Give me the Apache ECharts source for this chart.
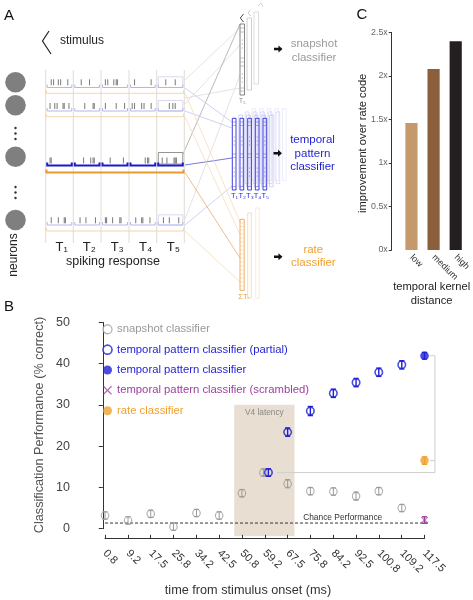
<!DOCTYPE html>
<html><head><meta charset="utf-8">
<script src="https://cdn.jsdelivr.net/npm/echarts@6/dist/echarts.min.js"></script>
<style>html,body{margin:0;padding:0;background:#fff}#c{width:473px;height:600px}</style>
</head><body><div id="c"></div>
<script>
// ---------- DATA ----------
const timeLabels = ['0.8','9.2','17.5','25.8','34.2','42.5','50.8','59.2','67.5','75.8','84.2','92.5','100.8','109.2','117.5'];
const times = timeLabels.map(Number);
const snapshotMean = [3.2, 2.0, 3.6, 0.5, 3.8, 3.2, 8.6, 13.6, 10.9, 9.1, 9.0, 7.9, 9.1, 5.0, null];
const snapshotErr  = [0.9, 0.9, 0.9, 0.9, 0.9, 0.9, 0.9, 0.9, 1.0, 0.9, 0.9, 1.0, 0.9, 0.9, null];
const partialMean  = [null, null, null, null, null, null, null, 13.6, 23.4, 28.5, 32.8, 35.4, 37.9, 39.7, null];
const partialErr   = [null, null, null, null, null, null, null, 0.9, 1.0, 1.1, 1.0, 1.0, 1.0, 1.0, null];
const temporalMean = [null, null, null, null, null, null, null, null, null, null, null, null, null, null, 41.9];
const temporalErr  = [null, null, null, null, null, null, null, null, null, null, null, null, null, null, 0.8];
const scrambledMean = [null, null, null, null, null, null, null, null, null, null, null, null, null, null, 2.1];
const scrambledErr  = [null, null, null, null, null, null, null, null, null, null, null, null, null, null, 0.8];
const rateMean = [null, null, null, null, null, null, null, null, null, null, null, null, null, null, 16.5];
const rateErr  = [null, null, null, null, null, null, null, null, null, null, null, null, null, null, 0.9];
const chanceLevel = 1.37;
const v4Latency = [48, 70];
const v4Range = [30, -1.8];
const yTicksB = [0, 50, 10];
const kernelCats = ['low', 'medium', 'high'];
const improvement = [1.46, 2.08, 2.40];
const kernelColors = ['#c49a6c', '#8b5e3c', '#231f20'];

// ---------- HELPERS ----------
const FF = '"Liberation Sans", Arial, Helvetica, sans-serif';
const BLUE = '#1f1fd6', GRAY = '#999', PURPLE = '#a040a0', ORANGE = '#f0a030';
const XSYM = 'path://M0,1L1,0L5,4L9,0L10,1L6,5L10,9L9,10L5,6L1,10L0,9L4,5Z';
const n = times.length;
const idx59 = timeLabels.indexOf('59.2');

function pts(mean, dx) {
  const out = [];
  times.forEach((t, i) => {
    if (mean[i] == null) return;
    const it = { value: [t, mean[i]] };
    if (dx && dx[i]) it.symbolOffset = [dx[i], 0];
    out.push(it);
  });
  return out;
}
function errSeries(mean, err, color, lw, dx) {
  const data = [];
  times.forEach((t, i) => { if (mean[i] != null) data.push([t, mean[i], err[i], (dx && dx[i]) || 0]); });
  return {
    type: 'custom', silent: true, z: 3, data,
    renderItem(params, api) {
      const x = api.value(0), y = api.value(1), e = api.value(2), d = api.value(3);
      const a = api.coord([x, y + e]), b = api.coord([x, y - e]);
      const cx = a[0] + d, w = 2.6;
      const st = { stroke: color, lineWidth: lw };
      return { type: 'group', children: [
        { type: 'line', shape: { x1: cx, y1: a[1], x2: cx, y2: b[1] }, style: st },
        { type: 'line', shape: { x1: cx - w, y1: a[1], x2: cx + w, y2: a[1] }, style: st },
        { type: 'line', shape: { x1: cx - w, y1: b[1], x2: cx + w, y2: b[1] }, style: st }
      ]};
    }
  };
}
const snapDx = {}; snapDx[idx59] = -1.5;
const partDx = {}; partDx[idx59] = 3.5;

// ---------- PANEL A (schematic) ----------
const G = [];
function txt(x, y, text, o) {
  o = o || {};
  G.push({ type: 'text', x, y, rotation: o.rot || 0, silent: true,
    style: { text, fill: o.color || '#222', font: (o.size || 12) + 'px ' + FF,
      textAlign: o.align || 'center', textVerticalAlign: 'middle', opacity: o.op == null ? 1 : o.op } });
}
function ln(x1, y1, x2, y2, stroke, w) { G.push({ type: 'line', silent: true, shape: { x1, y1, x2, y2 }, style: { stroke, lineWidth: w || 1 } }); }
function pl(points, stroke, w) { G.push({ type: 'polyline', silent: true, shape: { points }, style: { stroke, lineWidth: w || 1, fill: null } }); }
function rc(x, y, w, h, stroke, lw, fill) { G.push({ type: 'rect', silent: true, shape: { x, y, width: w, height: h }, style: { stroke, lineWidth: lw || 1, fill: fill || null } }); }
function cc(x, y, r, fill) { G.push({ type: 'circle', silent: true, shape: { cx: x, cy: y, r }, style: { fill } }); }
function arrow(x, y) { G.push({ type: 'polygon', silent: true, shape: { points: [[x, y - 1.3], [x + 4.5, y - 1.3], [x + 4.5, y - 3.5], [x + 8.5, y], [x + 4.5, y + 3.5], [x + 4.5, y + 1.3], [x, y + 1.3]] }, style: { fill: '#111' } }); }

// panel letters
txt(9, 16, 'A', { size: 15, color: '#111' });
txt(9, 307, 'B', { size: 15, color: '#111' });
txt(362, 15, 'C', { size: 15, color: '#111' });

// stimulus
pl([[49, 31], [42.5, 41], [51, 54]], '#222', 1.2);
txt(60, 41, 'stimulus', { align: 'left', size: 12 });

// neurons
[82.3, 105.3, 156.7, 220].forEach(y => cc(15.5, y, 10.3, '#7f7f7f'));
[128, 133.5, 139, 187, 192.5, 198].forEach(y => cc(15.5, y, 1.2, '#333'));
txt(14, 255, 'neurons', { rot: Math.PI / 2, size: 12 });

// connection lines (behind)
const rowsSpike = [85.3, 109, 163.5, 223.3];
const rowsBlue = [87.5, 111, 165.5, 225];
const rowsOr = [93.3, 116.7, 172.5, 231];
[[185, 80, 240, 28], [185, 104, 240, 45], [185, 219, 240, 75], [185, 98, 240, 88]].forEach(l => ln(l[0], l[1], l[2], l[3], '#dcdcdc', 0.8));
ln(183, 154, 240, 24, '#a8a8a8', 0.8);
[[185, 88, 232, 122], [185, 111, 232, 128], [185, 225, 232, 186]].forEach(l => ln(l[0], l[1], l[2], l[3], '#c3c6f0', 0.8));
ln(185, 165, 232, 158, '#6a6ad8', 0.9);
[[185, 93, 240, 222], [185, 117, 240, 234], [185, 231, 240, 282]].forEach(l => ln(l[0], l[1], l[2], l[3], '#f6dcb8', 0.8));
ln(185, 172.5, 240, 258, '#ebb878', 0.9);

// raster
const binX = [45.7, 73.3, 101, 129, 156.7, 184.3];
binX.forEach(x => ln(x, 70, x, 243, '#e2dbd3', 1));
const spikes = [
  [[.15, .25, .45, .55, .85], [.25, .6], [.1, .2, .45, .55, .6], [.15, .85], [.3, .7]],
  [[.1, .3, .4, .65, .7, .9], [.4, .75, .8], [.1, .55, .9], [.05, .15, .45, .55, .85], [.45, .6, .7]],
  [[.1, .15], [.35, .65, .75, .8], [.3, .85], [.6, .7, .75], [.15, .35, .65, .7, .75]],
  [[.15, .45, .7, .75], [.2, .45, .85], [.1, .15, .4, .7, .75], [.2, .45, .5, .8], [.2, .45, .85]]
];
for (let r = 0; r < 4; r++) {
  const hi = r === 2;
  const yb = rowsSpike[r];
  if (hi) rc(158.3, 152.5, 24.5, 11.5, '#888', 0.9);
  else rc(158.3, yb - 8.5, 24.5, rowsBlue[r] - yb + 8.5, '#cfd1ea', 0.8);
  for (let b = 0; b < 5; b++) {
    const x0 = binX[b], x1 = binX[b + 1];
    spikes[r][b].forEach(f => { const x = x0 + 2 + f * (x1 - x0 - 4); ln(x, yb - 6, x, yb, '#555', 0.8); });
    const by = rowsBlue[r];
    pl([[x0 + 1.5, by - 3], [x0 + 1.5, by], [x1 - 1.5, by], [x1 - 1.5, by - 3]], hi ? '#1a1ad0' : '#b3b6ee', hi ? 2 : 1);
  }
  const oy = rowsOr[r];
  pl([[46.5, oy - 3], [46.5, oy], [183.5, oy], [183.5, oy - 3]], hi ? '#e89a30' : '#f4d6ae', hi ? 2 : 1);
}
['T\u2081', 'T\u2082', 'T\u2083', 'T\u2084', 'T\u2085'].forEach((t, i) => txt([61.7, 89.3, 117.3, 145.7, 173.3][i], 247, t, { size: 13 }));
txt(113, 262, 'spiking response', { size: 12.5 });

// snapshot classifier columns
rc(254, 12, 4.5, 72, '#d6d6d6', 0.8);
rc(247, 18, 4.5, 72, '#c4c4c4', 0.8);
pl([[258, 6], [261, 3], [263, 7]], '#c8c8c8', 0.8);
pl([[250, 10], [248, 13], [251, 16]], '#bbb', 0.8);
pl([[243.5, 14], [240.3, 18], [243.5, 22]], '#333', 0.9);
rc(240, 24, 4.5, 71, '#777', 0.9);
[28, 32, 58, 62, 66, 88, 91].forEach(y => ln(240, y, 244.5, y, '#999', 0.6));
[40, 44, 48, 74, 78, 82].forEach(y => cc(242.2, y, 0.45, '#555'));
txt(242.3, 101, 'T\u2085', { size: 6.5, color: '#888' });
arrow(274, 49);
txt(314, 44, 'snapshot', { size: 11.5, color: '#9a9a9a' });
txt(314, 58, 'classifier', { size: 11.5, color: '#9a9a9a' });

// temporal pattern classifier columns
const tcx = [232.3, 240, 247.7, 255.3, 263];
for (let k = 3; k >= 1; k--) {
  tcx.forEach(x => rc(x + 6.5 * k, 118.3 - 3.2 * k, 3.7, 71.7, 'rgba(110,110,225,' + (0.55 - 0.12 * k) + ')', 0.7));
}
tcx.forEach(x => {
  rc(x, 118.3, 3.7, 71.7, '#2a2ad8', 0.9);
  [122, 125.5, 154, 157.5, 186.5].forEach(y => ln(x, y, x + 3.7, y, '#5a5ae0', 0.5));
  [137, 141, 145, 168, 172, 176].forEach(y => cc(x + 1.85, y, 0.45, '#2a2ad8'));
});
['T\u2081', 'T\u2082', 'T\u2083', 'T\u2084', 'T\u2085'].forEach((t, i) => txt(tcx[i] + 2.2, 196, t, { size: 7.5, color: '#2a2ad8' }));
arrow(273.5, 153.3);
txt(312.5, 139.5, 'temporal', { size: 11.5, color: BLUE });
txt(312.5, 153.5, 'pattern', { size: 11.5, color: BLUE });
txt(312.5, 167, 'classifier', { size: 11.5, color: BLUE });

// rate classifier columns
rc(255.7, 208, 3.6, 90, '#f8e2c4', 0.7);
rc(247.7, 213, 3.6, 85, '#f3cf9f', 0.7);
rc(240, 219.3, 4.2, 71, '#eaa550', 0.9);
[223, 226.5, 230, 234, 238, 242, 246, 250, 254, 258, 262, 266, 270, 274, 278, 282, 286].forEach(y => ln(240, y, 244.2, y, '#f0c088', 0.5));
txt(243.5, 296.5, '\u03a3T\u1d62', { size: 7.5, color: '#e8a040' });
arrow(274, 256.7);
txt(313.3, 249.5, 'rate', { size: 11.5, color: ORANGE });
txt(313.3, 262.5, 'classifier', { size: 11.5, color: ORANGE });

// axis titles / annotations
txt(39, 425, 'Classification Performance (% correct)', { rot: Math.PI / 2, size: 12.7, color: '#555' });
txt(248, 590, 'time from stimulus onset (ms)', { size: 12.7, color: '#333' });
txt(342.7, 518, 'Chance Performance', { size: 8.4, color: '#333' });
txt(363.3, 143.3, 'improvement over rate code', { rot: Math.PI / 2, size: 11.2, color: '#222' });
txt(431.7, 287.3, 'temporal kernel', { size: 11.2, color: '#222' });
txt(431.7, 300.7, 'distance', { size: 11.2, color: '#222' });

// ---------- CHART ----------
const xMin = -9.8, xMax = 122.5;
const last = n - 1;
const topY = temporalMean[last], lowY = partialMean[idx59];
const bracket = [[times[last] + 2, topY], [times[last] + 3.8, topY], [times[last] + 3.8, lowY], [times[idx59] + 4.3, lowY]];
const rateTick = [[times[last] + 2, rateMean[last]], [times[last] + 3.8, rateMean[last]]];

const legendData = [
  { name: 'snapshot classifier', icon: 'circle', itemStyle: { color: '#fff', borderColor: GRAY, borderWidth: 1.2 }, textStyle: { color: GRAY } },
  { name: 'temporal pattern classifier (partial)', icon: 'circle', itemStyle: { color: '#fff', borderColor: BLUE, borderWidth: 1.6 }, textStyle: { color: BLUE } },
  { name: 'temporal pattern classifier', icon: 'circle', itemStyle: { color: BLUE, borderWidth: 0 }, textStyle: { color: BLUE } },
  { name: 'temporal pattern classifier (scrambled)', icon: XSYM, itemStyle: { color: PURPLE, borderWidth: 0 }, textStyle: { color: PURPLE } },
  { name: 'rate classifier', icon: 'circle', itemStyle: { color: ORANGE, borderWidth: 0 }, textStyle: { color: ORANGE } }
];

const option = {
  animation: false,
  backgroundColor: '#fff',
  textStyle: { fontFamily: FF },
  graphic: { elements: G },
  legend: {
    data: legendData, orient: 'vertical', left: 102.2, top: 322.3, itemWidth: 9, itemHeight: 9,
    itemGap: 6.35, padding: 0, selectedMode: false,
    textStyle: { fontSize: 11.3, lineHeight: 14, fontFamily: FF }
  },
  grid: [
    { left: 76, top: 322.3, width: 362.2, height: 206.4 },
    { left: 105, top: 537.5, width: 319.5, height: 1 },
    { left: 400.4, top: 32.5, width: 66.6, height: 217.5 }
  ],
  xAxis: [
    { gridIndex: 0, type: 'value', min: xMin, max: xMax, show: false },
    { gridIndex: 1, type: 'category', data: timeLabels, boundaryGap: false,
      axisLine: { lineStyle: { color: '#333', width: 1 } },
      axisTick: { inside: true, length: 3.7, lineStyle: { color: '#333' } },
      axisLabel: { rotate: -45, fontSize: 11, color: '#333', margin: 13, interval: 0 },
      splitLine: { show: false } },
    { gridIndex: 2, type: 'category', data: kernelCats,
      axisLine: { show: false }, axisTick: { show: false },
      axisLabel: { rotate: -45, fontSize: 9, color: '#333', margin: 6 } }
  ],
  yAxis: [
    { gridIndex: 0, type: 'value', min: yTicksB[0], max: yTicksB[1], interval: yTicksB[2],
      axisLine: { show: true, lineStyle: { color: '#333' } },
      axisTick: { show: true, length: 4, lineStyle: { color: '#333' } },
      axisLabel: { fontSize: 12.5, color: '#444', margin: 6 },
      splitLine: { show: false } },
    { gridIndex: 1, type: 'value', show: false },
    { gridIndex: 2, type: 'value', min: 0, max: 2.5, interval: 0.5, offset: 8.7,
      axisLine: { show: true, lineStyle: { color: '#333' } },
      axisTick: { show: true, length: 3, lineStyle: { color: '#333' } },
      axisLabel: { fontSize: 8.8, color: '#666', margin: 4, formatter: v => v + 'x' },
      splitLine: { show: false } }
  ],
  series: [
    { type: 'custom', silent: true, z: 0, xAxisIndex: 0, yAxisIndex: 0,
      data: [[v4Latency[0], v4Latency[1], v4Range[0], v4Range[1]]],
      renderItem(params, api) {
        const p0 = api.coord([api.value(0), api.value(2)]);
        const p1 = api.coord([api.value(1), api.value(3)]);
        return { type: 'group', children: [
          { type: 'rect', shape: { x: p0[0], y: p0[1], width: p1[0] - p0[0], height: p1[1] - p0[1] }, style: { fill: '#e9ded2' } },
          { type: 'text', x: (p0[0] + p1[0]) / 2, y: p0[1] + 8, style: { text: 'V4 latency', fill: '#888', font: '8.3px ' + FF, textAlign: 'center', textVerticalAlign: 'middle' } }
        ]};
      } },
    { type: 'line', silent: true, symbol: 'none', z: 1,
      data: [[times[0], chanceLevel], [times[last] + 1.5, chanceLevel]],
      lineStyle: { color: '#333', width: 1, type: [3, 2] } },
    { type: 'line', silent: true, symbol: 'none', z: 1, data: bracket, lineStyle: { color: '#cfcfcf', width: 1 } },
    { type: 'line', silent: true, symbol: 'none', z: 1, data: rateTick, lineStyle: { color: '#cfcfcf', width: 1 } },
    errSeries(snapshotMean, snapshotErr, GRAY, 1, snapDx),
    errSeries(partialMean, partialErr, BLUE, 1.4, partDx),
    errSeries(temporalMean, temporalErr, BLUE, 1.4),
    errSeries(scrambledMean, scrambledErr, PURPLE, 1.4),
    errSeries(rateMean, rateErr, ORANGE, 1.4),
    { name: 'snapshot classifier', type: 'scatter', z: 4, symbol: 'circle', symbolSize: 7.5,
      itemStyle: { color: 'rgba(255,255,255,0)', borderColor: GRAY, borderWidth: 1.1 }, data: pts(snapshotMean, snapDx) },
    { name: 'temporal pattern classifier (partial)', type: 'scatter', z: 5, symbol: 'circle', symbolSize: 7.5,
      itemStyle: { color: 'rgba(255,255,255,0)', borderColor: BLUE, borderWidth: 1.6 }, data: pts(partialMean, partDx) },
    { name: 'temporal pattern classifier', type: 'scatter', z: 5, symbol: 'circle', symbolSize: 8.7,
      itemStyle: { color: BLUE }, data: pts(temporalMean) },
    { name: 'temporal pattern classifier (scrambled)', type: 'scatter', z: 5, symbol: XSYM, symbolSize: [7, 6],
      itemStyle: { color: PURPLE }, data: pts(scrambledMean) },
    { name: 'rate classifier', type: 'scatter', z: 5, symbol: 'circle', symbolSize: 8.5,
      itemStyle: { color: ORANGE }, data: pts(rateMean) },
    { type: 'bar', xAxisIndex: 2, yAxisIndex: 2, barWidth: '55%', silent: true,
      data: improvement.map((v, i) => ({ value: v, itemStyle: { color: kernelColors[i] } })) }
  ]
};
const chart = echarts.init(document.getElementById('c'), null, { renderer: 'canvas' });
chart.setOption(option);
</script></body></html>
